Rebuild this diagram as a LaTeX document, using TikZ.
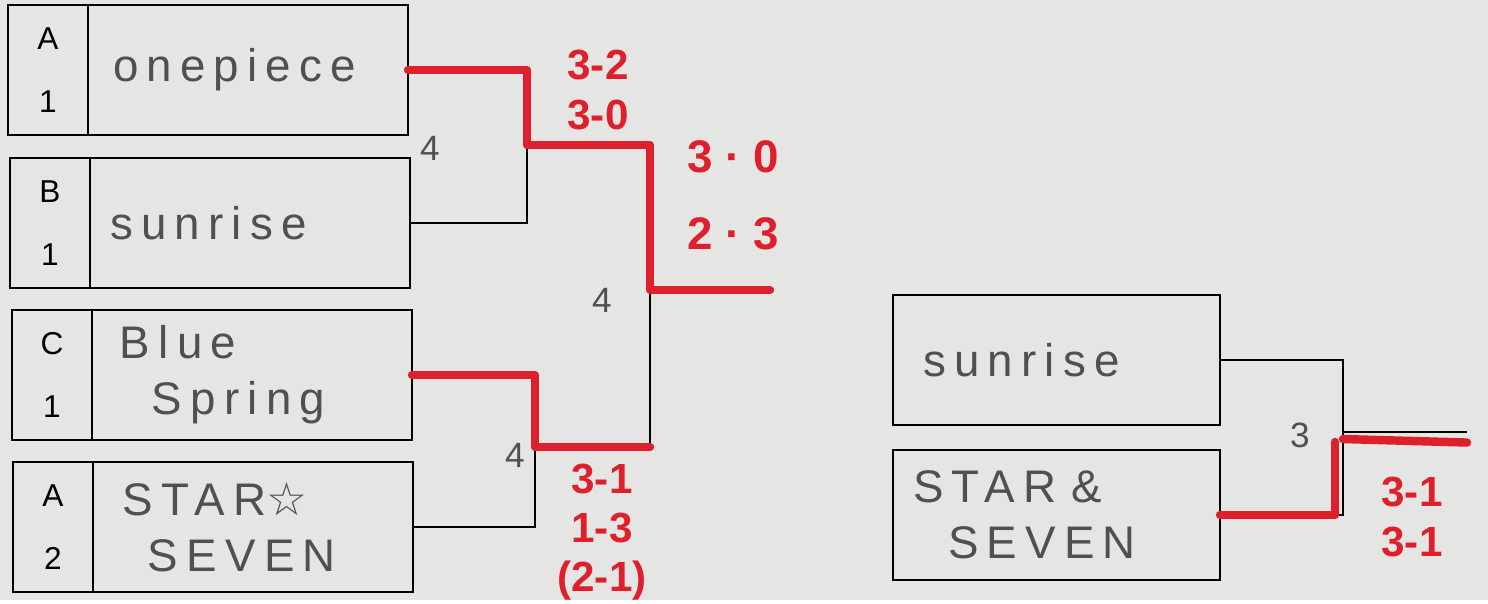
\documentclass[tikz,border=0pt]{standalone}
\usepackage{fontspec}
\setmainfont{Liberation Sans}
\newfontfamily\symfont{DejaVu Sans}
\usetikzlibrary{positioning}
\definecolor{paper}{RGB}{229,229,227}
\definecolor{pencil}{RGB}{80,80,80}
\definecolor{marker}{RGB}{222,32,44}

\begin{document}
\begin{tikzpicture}[
  seedbox/.style={draw=black,line width=0.7pt,minimum width=0.8cm,minimum height=1.3cm,
                  inner sep=0pt,outer sep=0pt,align=center,font=\fontsize{9}{18}\selectfont},
  namebox/.style={draw=black,line width=0.7pt,minimum width=3.2cm,minimum height=1.3cm,
                  text width=3.0cm,inner sep=0pt,outer sep=0pt,align=left,text=pencil,
                  font=\fontsize{13}{16}\selectfont\addfontfeatures{LetterSpace=18}},
  wire/.style={draw=black,line width=0.6pt},
  win/.style={draw=marker,line width=2.4pt,line cap=round,line join=round},
  score/.style={text=marker,font=\fontsize{12}{14}\selectfont\bfseries,inner sep=1pt,align=center},
  tally/.style={text=pencil,font=\fontsize{10}{10}\selectfont,inner sep=1pt},
]
\fill[paper] (0,0) rectangle (14.88,-6.00);

\node[seedbox] (sA1) at (0.48,-0.70) {A\\1};
\node[namebox,right=0pt of sA1] (onepiece) {\hspace*{0.15cm}onepiece};
\node[seedbox] (sB1) at (0.50,-2.23) {B\\1};
\node[namebox,right=0pt of sB1] (sunrise) {\hspace*{0.1cm}sunrise};
\node[seedbox] (sC1) at (0.52,-3.75) {C\\1};
\node[namebox,right=0pt of sC1] (bluespring) {\hspace*{0.18cm}Blue\\\hspace*{0.5cm}Spring};
\node[seedbox] (sA2) at (0.53,-5.27) {A\\2};
\node[namebox,right=0pt of sA2] (starseven) {\hspace*{0.2cm}STAR{\symfont ☆}\\\hspace*{0.45cm}SEVEN};

\coordinate (m1) at (5.27,-1.45);
\coordinate (m2) at (5.35,-4.47);
\coordinate (f1) at (6.50,-2.90);
\coordinate (out1) at (7.70,-2.90);

\draw[wire] (onepiece.east) -| (m1) |- (sunrise.east);
\draw[wire] (bluespring.east) -| (m2) |- (starseven.east);
\draw[wire] (m1) -| (f1) |- (m2);
\draw[wire] (f1) -- (out1);
\draw[win] (onepiece.east) -| (m1) -| (f1) -- (out1);
\draw[win] (bluespring.east) -| (m2) -- (m2 -| f1);

\node[tally] (t1) at (4.30,-1.48) {4};
\node[tally] (t2) at (6.02,-3.00) {4};
\node[tally] (t3) at (5.15,-4.55) {4};
\node[score] (r1) at (5.98,-0.90) {3-2\\3-0};
\node[score,font=\fontsize{13}{22}\selectfont\bfseries] (r2) at (7.33,-1.95) {3 · 0\\2 · 3};
\node[score] (r3) at (6.02,-5.32) {3-1\\1-3\\(2-1)};

\node[namebox,minimum width=3.27cm,text width=3.07cm] (sunrise2) at (10.565,-3.60)
  {\hspace*{0.2cm}sunrise};
\node[namebox,minimum width=3.27cm,text width=3.07cm] (starseven2) at (10.565,-5.15)
  {\hspace*{0.1cm}STAR \&\\\hspace*{0.45cm}SEVEN};

\coordinate (m3) at (13.43,-4.32);
\coordinate (out2) at (14.67,-4.32);
\coordinate (k3) at (13.35,-4.42);

\draw[wire] (sunrise2.east) -| (m3) |- (starseven2.east);
\draw[wire] (m3) -- (out2);
\draw[win] (starseven2.east) -| (k3);
\draw[win] ([yshift=-2pt]m3) -- ([yshift=-3pt]out2);

\node[tally] (t4) at (13.00,-4.35) {3};
\node[score] (r4) at (14.12,-5.17) {3-1\\3-1};
\end{tikzpicture}
\end{document}
